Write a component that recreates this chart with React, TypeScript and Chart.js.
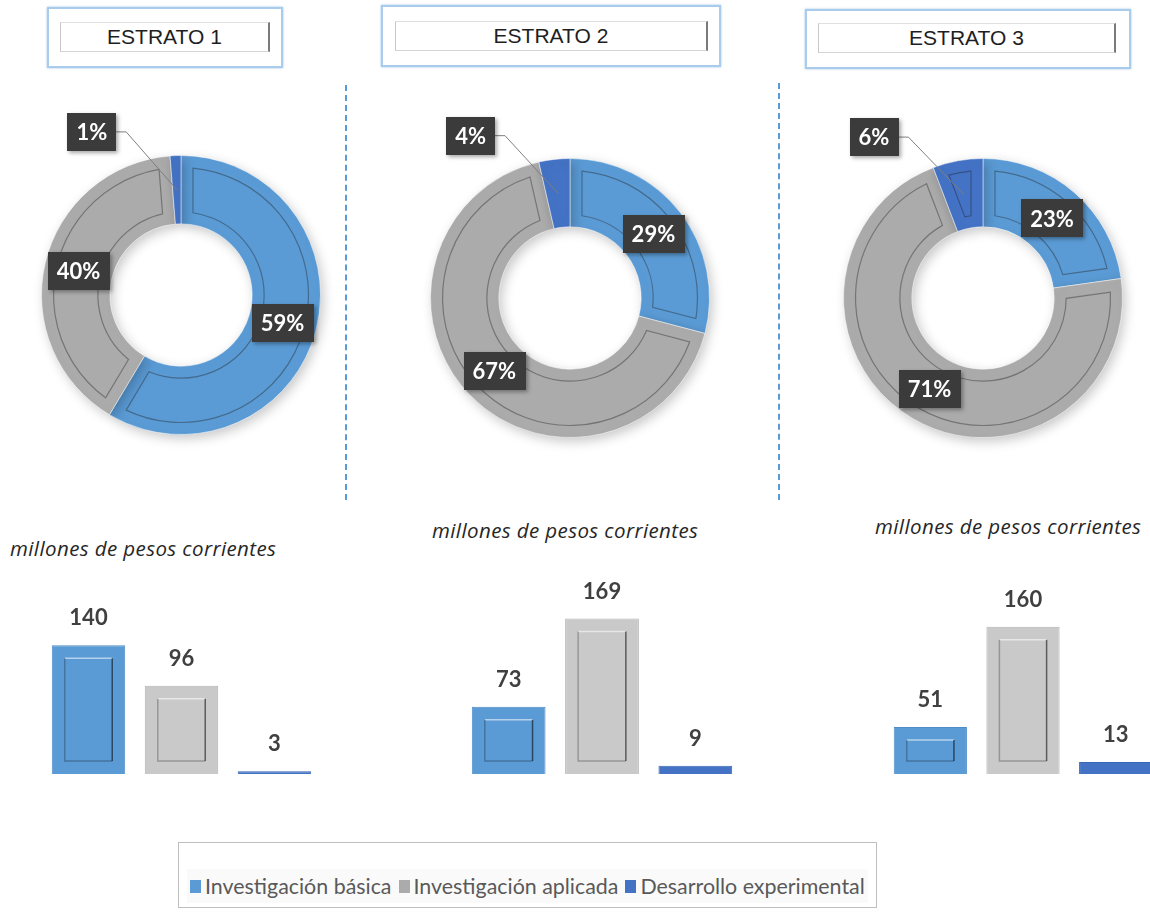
import React, { useEffect, useRef } from "react";
import { Chart, registerables } from "chart.js";

Chart.register(...registerables);

// ---------------- DATA ----------------
const categories = ["Investigación básica", "Investigación aplicada", "Desarrollo experimental"];
const strataTitles = ["ESTRATO 1", "ESTRATO 2", "ESTRATO 3"];
const estrato1Values = [140, 96, 3];
const estrato2Values = [73, 169, 9];
const estrato3Values = [51, 160, 13];
const subtitleText = "millones de pesos corrientes";
const barAxisMax = 200;

// ---------------- STYLE ----------------
const donutColors = ["#5B9BD5", "#ABABAB", "#4472C4"];
const barColors = ["#5B9BD5", "#C9C9C9", "#4472C4"];
const barBorders = ["#4E8CC7", "#B3B3B3", "#3A67B5"];

const panels = [
  {
    values: estrato1Values, title: strataTitles[0],
    outer: { l: 47, t: 7, w: 236, h: 61 }, inner: { l: 60, t: 22, w: 210, h: 30 },
    donut: { cx: 181, cy: 295 }, sub: { l: 10, cy: 548 }, bars: { l: 42, w: 279 },
  },
  {
    values: estrato2Values, title: strataTitles[1],
    outer: { l: 381, t: 5, w: 340, h: 62 }, inner: { l: 395, t: 21, w: 313, h: 30 },
    donut: { cx: 570, cy: 298 }, sub: { l: 432, cy: 530 }, bars: { l: 462, w: 280 },
  },
  {
    values: estrato3Values, title: strataTitles[2],
    outer: { l: 805, t: 9, w: 326, h: 60 }, inner: { l: 818, t: 23, w: 298, h: 30 },
    donut: { cx: 983, cy: 298 }, sub: { l: 875, cy: 526 }, bars: { l: 884, w: 278 },
  },
];

const DONUT_W = 340;
const DONUT_H = 380;

function Donut({ values, cx, cy }: { values: number[]; cx: number; cy: number }) {
  const ref = useRef<HTMLCanvasElement>(null);
  useEffect(() => {
    if (!ref.current) return;
    const total = values.reduce((a, b) => a + b, 0);
    const plugin = {
      id: "donutDeco",
      beforeDatasetsDraw(chart: any) {
        const c = chart.ctx;
        c.save();
        c.shadowColor = "rgba(0,0,0,0.22)";
        c.shadowBlur = 12;
        c.shadowOffsetX = 3;
        c.shadowOffsetY = 4;
      },
      afterDatasetsDraw(chart: any) {
        const c = chart.ctx;
        c.restore();
        const meta = chart.getDatasetMeta(0);
        // bevel inset outlines
        meta.data.forEach((arc: any) => {
          const p = arc.getProps(["x", "y", "startAngle", "endAngle", "innerRadius", "outerRadius"], true);
          const ro = p.outerRadius - 12;
          const ri = p.innerRadius + 12;
          const dao = 12 / ro;
          const dai = 12 / ri;
          if (p.endAngle - p.startAngle - 2 * dai < 0.04) return;
          c.save();
          c.beginPath();
          c.arc(p.x, p.y, ro, p.startAngle + dao, p.endAngle - dao);
          c.arc(p.x, p.y, ri, p.endAngle - dai, p.startAngle + dai, true);
          c.closePath();
          c.strokeStyle = "rgba(30,30,30,0.38)";
          c.lineWidth = 1.2;
          c.stroke();
          c.restore();
        });
        // labels
        c.save();
        c.font = "bold 22px Lato";
        meta.data.forEach((arc: any, i: number) => {
          const p = arc.getProps(["x", "y", "startAngle", "endAngle", "innerRadius", "outerRadius"], true);
          const pct = Math.round((values[i] / total) * 100);
          const txt = pct + "%";
          const tw = c.measureText(txt).width;
          const bw = tw + 18;
          const bh = 38;
          const mid = (p.startAngle + p.endAngle) / 2;
          const rm = (p.innerRadius + p.outerRadius) / 2;
          const ax = p.x + Math.cos(mid) * rm;
          const ay = p.y + Math.sin(mid) * rm;
          let bx = ax;
          let by = ay;
          if (pct < 10) {
            const ox = p.x + Math.cos(mid) * p.outerRadius;
            const oy = p.y + Math.sin(mid) * p.outerRadius;
            bx = ox - 0.6 * p.outerRadius;
            by = oy - 0.17 * p.outerRadius;
            c.beginPath();
            c.moveTo(bx + bw / 2, by);
            c.lineTo(bx + bw / 2 + 10, by);
            c.lineTo(ax, ay);
            c.strokeStyle = "#7F7F7F";
            c.lineWidth = 1;
            c.stroke();
          }
          c.save();
          c.shadowColor = "rgba(0,0,0,0.35)";
          c.shadowBlur = 4;
          c.shadowOffsetX = 2;
          c.shadowOffsetY = 2;
          c.fillStyle = "#3B3B3B";
          c.fillRect(Math.round(bx - bw / 2), Math.round(by - bh / 2), Math.round(bw), bh);
          c.restore();
          c.fillStyle = "#FFFFFF";
          c.textAlign = "center";
          c.textBaseline = "middle";
          c.fillText(txt, bx, by + 1);
        });
        c.restore();
      },
    };
    const chart = new Chart(ref.current, {
      type: "doughnut",
      data: {
        labels: categories,
        datasets: [
          {
            data: values,
            backgroundColor: donutColors,
            borderColor: "rgba(255,255,255,0.5)",
            borderWidth: 1,
          },
        ],
      },
      options: {
        responsive: false,
        animation: false,
        events: [],
        cutout: "51%",
        layout: { padding: { left: 30, right: 30, top: 50, bottom: 50 } },
        plugins: { legend: { display: false }, tooltip: { enabled: false } },
      },
      plugins: [plugin],
    } as any);
    return () => chart.destroy();
  }, [values]);
  return (
    <div style={{ position: "absolute", left: cx - DONUT_W / 2, top: cy - DONUT_H / 2, width: DONUT_W, height: DONUT_H }}>
      <canvas ref={ref} width={DONUT_W} height={DONUT_H} />
    </div>
  );
}

const BAR_TOP = 560;
const BAR_H = 220;

function Bars({ values, left, width }: { values: number[]; left: number; width: number }) {
  const ref = useRef<HTMLCanvasElement>(null);
  useEffect(() => {
    if (!ref.current) return;
    const plugin = {
      id: "barDeco",
      afterDatasetsDraw(chart: any) {
        const c = chart.ctx;
        const meta = chart.getDatasetMeta(0);
        c.save();
        meta.data.forEach((bar: any, i: number) => {
          const p = bar.getProps(["x", "y", "base", "width"], true);
          const h = p.base - p.y;
          if (h > 32) {
            const ins = 13;
            const l = p.x - p.width / 2 + ins;
            const r = p.x + p.width / 2 - ins;
            const t = p.y + ins;
            const b = p.base - ins;
            c.lineWidth = 1.5;
            c.strokeStyle = "rgba(255,255,255,0.55)";
            c.beginPath(); c.moveTo(l, t); c.lineTo(r, t); c.stroke();
            c.strokeStyle = "rgba(0,0,0,0.25)";
            c.beginPath(); c.moveTo(l, t); c.lineTo(l, b); c.lineTo(r, b); c.stroke();
            c.strokeStyle = "rgba(0,0,0,0.55)";
            c.beginPath(); c.moveTo(r, t); c.lineTo(r, b); c.stroke();
          }
          c.font = "bold 22px Lato";
          c.fillStyle = "#404040";
          c.textAlign = "center";
          c.textBaseline = "middle";
          c.fillText(String(values[i]), p.x, p.y - 27);
        });
        c.restore();
      },
    };
    const chart = new Chart(ref.current, {
      type: "bar",
      data: {
        labels: categories,
        datasets: [
          {
            data: values,
            backgroundColor: barColors,
            borderColor: barBorders,
            borderWidth: 1,
            barPercentage: 0.79,
            categoryPercentage: 1,
          },
        ],
      },
      options: {
        responsive: false,
        animation: false,
        events: [],
        layout: { padding: { top: 30, bottom: 6, left: 0, right: 0 } },
        plugins: { legend: { display: false }, tooltip: { enabled: false } },
        scales: {
          x: { display: false },
          y: { display: false, min: 0, max: barAxisMax },
        },
      },
      plugins: [plugin],
    } as any);
    return () => chart.destroy();
  }, [values]);
  return (
    <div style={{ position: "absolute", left, top: BAR_TOP, width, height: BAR_H }}>
      <canvas ref={ref} width={width} height={BAR_H} />
    </div>
  );
}

function TitleBox({ p }: { p: (typeof panels)[number] }) {
  return (
    <>
      <div
        style={{
          position: "absolute", left: p.outer.l, top: p.outer.t, width: p.outer.w, height: p.outer.h,
          boxSizing: "border-box", border: "2px solid #A9CBEC", boxShadow: "0 0 2px rgba(91,155,213,0.6)", background: "#fff",
        }}
      />
      <div
        style={{
          position: "absolute", left: p.inner.l, top: p.inner.t, width: p.inner.w, height: p.inner.h,
          boxSizing: "border-box", borderTop: "1px solid #E0E0E0", borderBottom: "1px solid #D4D4D4",
          borderLeft: "1px solid #C8C8C8", borderRight: "2px solid #7A7A7A",
          display: "flex", alignItems: "center", justifyContent: "center",
          fontFamily: "'Liberation Sans', Arial, sans-serif", fontSize: 21, color: "#1E1E1E",
        }}
      >
        {p.title}
      </div>
    </>
  );
}

export default function App() {
  useEffect(() => {
    document.body.style.margin = "0";
  }, []);
  return (
    <div style={{ position: "absolute", left: 0, top: 0, width: 1150, height: 921, overflow: "hidden", background: "#fff" }}>
      {panels.map((p, i) => (
        <React.Fragment key={i}>
          <TitleBox p={p} />
          <Donut values={p.values} cx={p.donut.cx} cy={p.donut.cy} />
          <div
            style={{
              position: "absolute", left: p.sub.l, top: p.sub.cy - 13, height: 26, lineHeight: "26px",
              fontFamily: "'Open Sans', sans-serif", fontStyle: "italic", fontSize: 20.5, letterSpacing: 0.4,
              color: "#262626", whiteSpace: "nowrap",
            }}
          >
            {subtitleText}
          </div>
          <Bars values={p.values} left={p.bars.l} width={p.bars.w} />
        </React.Fragment>
      ))}
      <div style={{ position: "absolute", left: 345, top: 85, height: 415, borderLeft: "2px dashed #5B9BD5" }} />
      <div style={{ position: "absolute", left: 778, top: 83, height: 417, borderLeft: "2px dashed #5B9BD5" }} />
      <div
        style={{
          position: "absolute", left: 178, top: 842, width: 699, height: 66, boxSizing: "border-box",
          border: "1px solid #BFBFBF", background: "#fff",
        }}
      >
        <div
          style={{
            position: "absolute", left: 8, right: 8, top: 26, height: 34, background: "#FAFAFA",
            display: "flex", alignItems: "center", paddingLeft: 3,
            fontFamily: "Lato, sans-serif", fontSize: 21.4, color: "#595959", whiteSpace: "nowrap",
          }}
        >
          {categories.map((cat, i) => (
            <span key={i} style={{ display: "inline-flex", alignItems: "center", marginRight: 7 }}>
              <span style={{ display: "inline-block", width: 11, height: 13, background: donutColors[i], marginRight: 4 }} />
              {cat}
            </span>
          ))}
        </div>
      </div>
    </div>
  );
}
